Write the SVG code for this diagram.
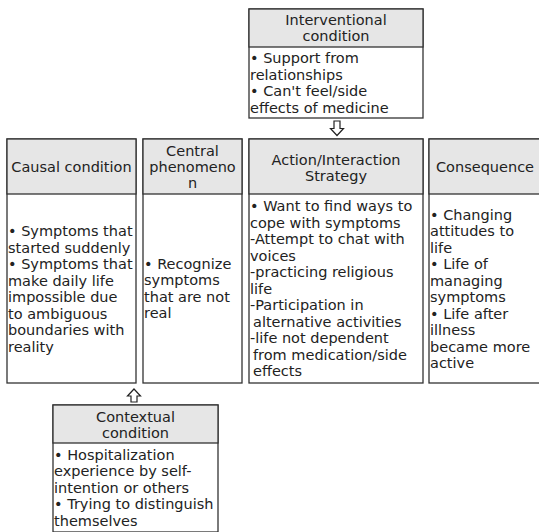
<svg xmlns="http://www.w3.org/2000/svg" width="539" height="532" viewBox="0 0 539 532">
<style>
.box{fill:#ffffff;stroke:#333333;stroke-width:1.3}
.hdr{fill:#e6e6e6;stroke:#333333;stroke-width:1.3}
text{font-family:"DejaVu Sans","Noto Sans",sans-serif;font-size:14.5px;fill:#222222}
.c{text-anchor:middle}
.arrow{fill:#ffffff;stroke:#222222;stroke-width:1.2;stroke-linejoin:miter}
</style>
<rect width="539" height="532" fill="#ffffff"/>

<g id="interventional">
<rect class="box" x="249" y="9" width="174" height="109"/>
<rect class="hdr" x="249" y="9" width="174" height="38"/>
<text class="c" x="336" y="25">Interventional</text>
<text class="c" x="336" y="41">condition</text>
<text x="250" y="63">• Support from</text>
<text x="250" y="79.5">relationships</text>
<text x="250" y="96">• Can't feel/side</text>
<text x="250" y="112.5">effects of medicine</text>
</g>

<g id="causal">
<rect class="box" x="7" y="139" width="129" height="244"/>
<rect class="hdr" x="7" y="139" width="129" height="55"/>
<text class="c" x="71.5" y="171.5">Causal condition</text>
<text x="8" y="236">• Symptoms that</text>
<text x="8" y="252.5">started suddenly</text>
<text x="8" y="269">• Symptoms that</text>
<text x="8" y="285.5">make daily life</text>
<text x="8" y="302">impossible due</text>
<text x="8" y="318.5">to ambiguous</text>
<text x="8" y="335">boundaries with</text>
<text x="8" y="351.5">reality</text>
</g>

<g id="central">
<rect class="box" x="143" y="139" width="99" height="244"/>
<rect class="hdr" x="143" y="139" width="99" height="55"/>
<text class="c" x="192.5" y="156">Central</text>
<text class="c" x="192.5" y="172">phenomeno</text>
<text class="c" x="192.5" y="188">n</text>
<text x="144" y="268.5">• Recognize</text>
<text x="144" y="285">symptoms</text>
<text x="144" y="301.5">that are not</text>
<text x="144" y="318">real</text>
</g>

<g id="action">
<rect class="box" x="249" y="139" width="174" height="244"/>
<rect class="hdr" x="249" y="139" width="174" height="55"/>
<text class="c" x="336" y="165">Action/Interaction</text>
<text class="c" x="336" y="181">Strategy</text>
<text x="250" y="211">• Want to find ways to</text>
<text x="250" y="227.5">cope with symptoms</text>
<text x="250" y="244">-Attempt to chat with</text>
<text x="250" y="260.5"> voices</text>
<text x="250" y="277">-practicing religious</text>
<text x="250" y="293.5"> life</text>
<text x="250" y="310">-Participation in</text>
<text x="253" y="326.5">alternative activities</text>
<text x="250" y="343">-life not dependent</text>
<text x="253" y="359.5">from medication/side</text>
<text x="253" y="376">effects</text>
</g>

<g id="consequence">
<rect class="box" x="429" y="139" width="112" height="244"/>
<rect class="hdr" x="429" y="139" width="112" height="55"/>
<text class="c" x="485" y="171.5">Consequence</text>
<text x="430" y="219.5">• Changing</text>
<text x="430" y="236">attitudes to</text>
<text x="430" y="252.5">life</text>
<text x="430" y="269">• Life of</text>
<text x="430" y="285.5">managing</text>
<text x="430" y="302">symptoms</text>
<text x="430" y="318.5">• Life after</text>
<text x="430" y="335">illness</text>
<text x="430" y="351.5">became more</text>
<text x="430" y="368">active</text>
</g>

<g id="contextual">
<rect class="box" x="53" y="405" width="165" height="127"/>
<rect class="hdr" x="53" y="405" width="165" height="38"/>
<text class="c" x="135.5" y="421.5">Contextual</text>
<text class="c" x="135.5" y="437.5">condition</text>
<text x="54" y="459.5">• Hospitalization</text>
<text x="54" y="476">experience by self-</text>
<text x="54" y="492.5">intention or others</text>
<text x="54" y="509">• Trying to distinguish</text>
<text x="54" y="525.5">themselves</text>
</g>

<g id="connectors">
<polygon class="arrow" points="334,121 340,121 340,128.5 343.5,128.5 337,135.5 330.5,128.5 334,128.5"/>
<polygon class="arrow" points="134,389 140.5,396 137,396 137,402 131,402 131,396 127.5,396"/>
</g>
</svg>
